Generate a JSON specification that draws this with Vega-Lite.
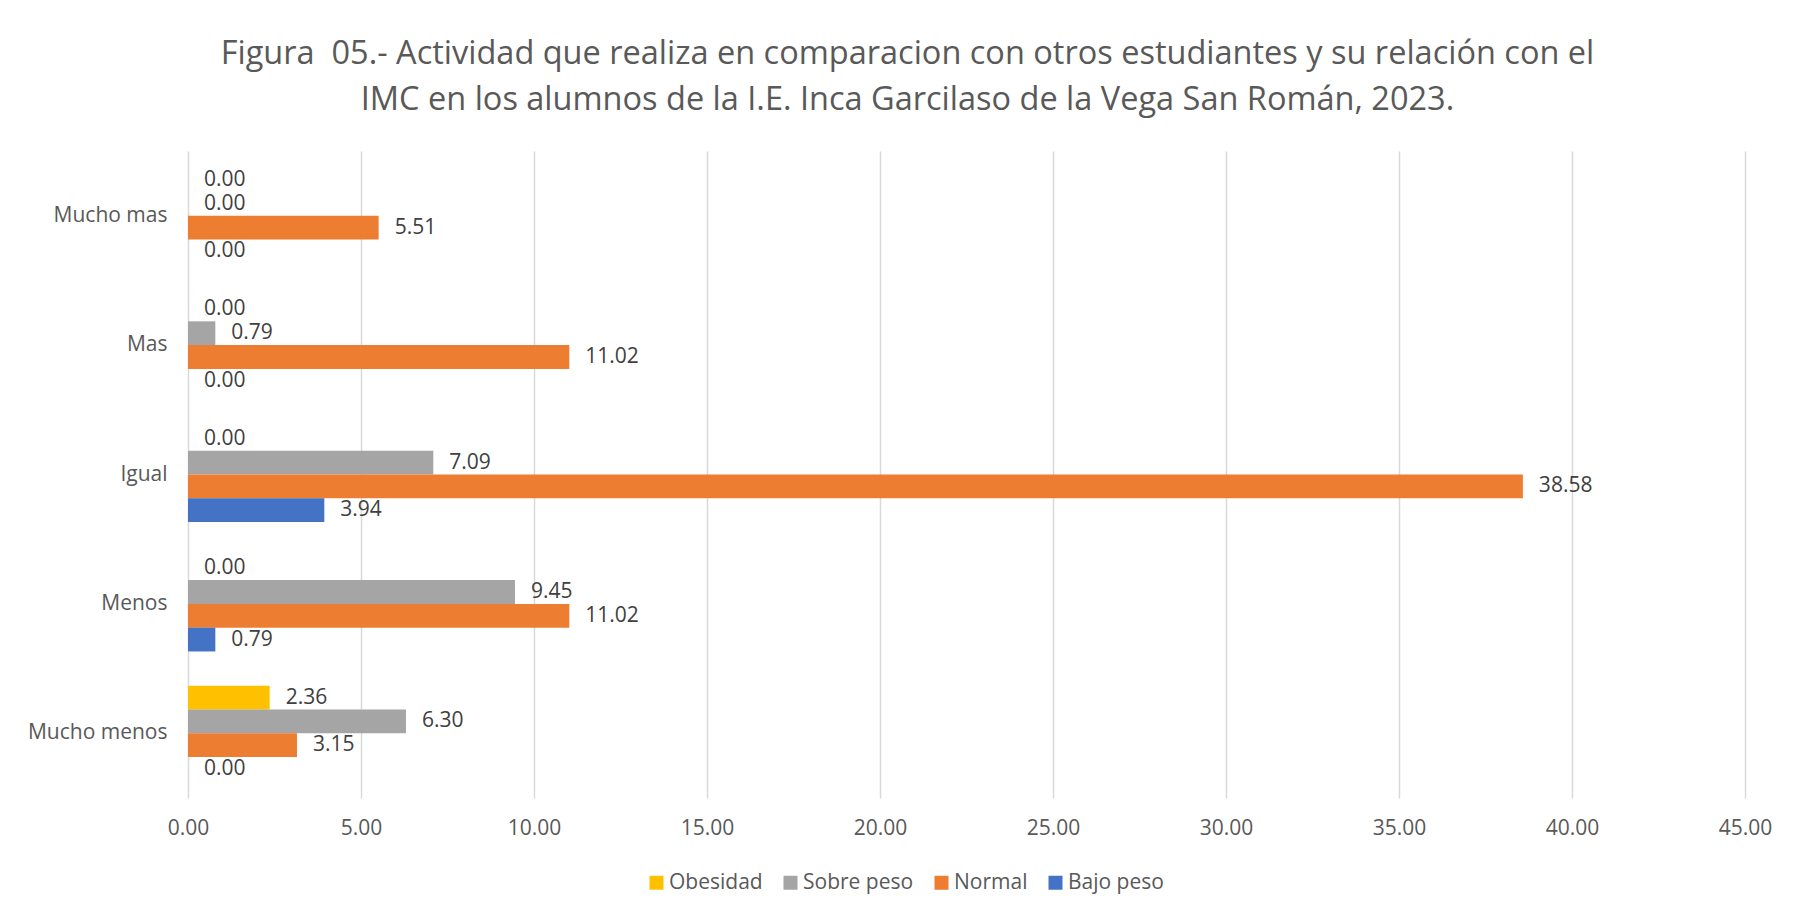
{
  "$schema": "https://vega.github.io/schema/vega-lite/v6.json",
  "width": 1557,
  "height": 647,
  "autosize": {"type": "none"},
  "padding": {"left": 188, "top": 151, "right": 55, "bottom": 120},
  "background": "white",
  "config": {"view": {"stroke": null}},
  "title": {
    "text": ["Figura\u00a0 05.- Actividad que realiza en comparacion con otros estudiantes y su relación con el", "IMC en los alumnos de la I.E. Inca Garcilaso de la Vega San Román, 2023."],
    "font": "Open Sans",
    "fontSize": 32.5,
    "fontWeight": "normal",
    "color": "#595959",
    "lineHeight": 46,
    "anchor": "middle",
    "dx": -59,
    "offset": 35
  },
  "data": {
    "values": [
      {"actividad": "Mucho mas", "imc": "Obesidad", "valor": 0},
      {"actividad": "Mucho mas", "imc": "Sobre peso", "valor": 0},
      {"actividad": "Mucho mas", "imc": "Normal", "valor": 5.51},
      {"actividad": "Mucho mas", "imc": "Bajo peso", "valor": 0},
      {"actividad": "Mas", "imc": "Obesidad", "valor": 0},
      {"actividad": "Mas", "imc": "Sobre peso", "valor": 0.79},
      {"actividad": "Mas", "imc": "Normal", "valor": 11.02},
      {"actividad": "Mas", "imc": "Bajo peso", "valor": 0},
      {"actividad": "Igual", "imc": "Obesidad", "valor": 0},
      {"actividad": "Igual", "imc": "Sobre peso", "valor": 7.09},
      {"actividad": "Igual", "imc": "Normal", "valor": 38.58},
      {"actividad": "Igual", "imc": "Bajo peso", "valor": 3.94},
      {"actividad": "Menos", "imc": "Obesidad", "valor": 0},
      {"actividad": "Menos", "imc": "Sobre peso", "valor": 9.45},
      {"actividad": "Menos", "imc": "Normal", "valor": 11.02},
      {"actividad": "Menos", "imc": "Bajo peso", "valor": 0.79},
      {"actividad": "Mucho menos", "imc": "Obesidad", "valor": 2.36},
      {"actividad": "Mucho menos", "imc": "Sobre peso", "valor": 6.30},
      {"actividad": "Mucho menos", "imc": "Normal", "valor": 3.15},
      {"actividad": "Mucho menos", "imc": "Bajo peso", "valor": 0}
    ]
  },
  "encoding": {
    "y": {
      "field": "actividad",
      "type": "nominal",
      "sort": ["Mucho mas", "Mas", "Igual", "Menos", "Mucho menos"],
      "scale": {"paddingInner": 0.265, "paddingOuter": 0.1325},
      "axis": {
        "title": null,
        "domain": false,
        "ticks": false,
        "labelFont": "Open Sans",
        "labelFontSize": 21,
        "labelColor": "#595959",
        "labelPadding": 21
      }
    },
    "yOffset": {
      "field": "imc",
      "type": "nominal",
      "sort": ["Obesidad", "Sobre peso", "Normal", "Bajo peso"],
      "scale": {"paddingInner": 0, "paddingOuter": 0}
    },
    "x": {
      "field": "valor",
      "type": "quantitative",
      "scale": {"domain": [0, 45], "nice": false},
      "axis": {
        "title": null,
        "values": [0, 5, 10, 15, 20, 25, 30, 35, 40, 45],
        "format": ".2f",
        "domain": false,
        "ticks": false,
        "grid": true,
        "gridColor": "#d9d9d9",
        "gridWidth": 1.5,
        "labelFlush": false,
        "labelFont": "Open Sans",
        "labelFontSize": 21,
        "labelColor": "#595959",
        "labelPadding": 19
      }
    }
  },
  "layer": [
    {
      "mark": {"type": "bar"},
      "encoding": {
        "color": {
          "field": "imc",
          "type": "nominal",
          "sort": ["Obesidad", "Sobre peso", "Normal", "Bajo peso"],
          "scale": {
            "domain": ["Obesidad", "Sobre peso", "Normal", "Bajo peso"],
            "range": ["#FFC000", "#A5A5A5", "#ED7D31", "#4472C4"]
          },
          "legend": {
            "title": null,
            "orient": "none",
            "direction": "horizontal",
            "legendX": 458,
            "legendY": 721,
            "symbolType": "square",
            "symbolSize": 196,
            "symbolStrokeWidth": 0,
            "symbolOpacity": 1,
            "labelFont": "Open Sans",
            "labelFontSize": 21,
            "labelColor": "#595959",
            "labelOffset": 2,
            "columnPadding": 17
          }
        }
      }
    },
    {
      "mark": {"type": "text", "align": "left", "baseline": "middle", "dx": 16, "font": "Open Sans", "fontSize": 21, "color": "#404040"},
      "encoding": {
        "text": {"field": "valor", "type": "quantitative", "format": ".2f"}
      }
    }
  ]
}
